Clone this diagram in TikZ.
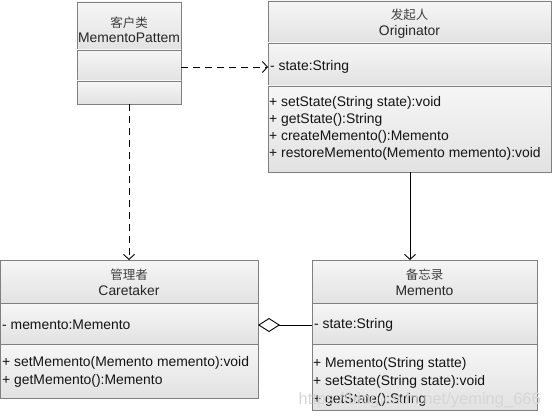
\documentclass[tikz,border=0pt]{standalone}
\usepackage{fontspec}
\setmainfont{Liberation Sans}
\newfontfamily\cjk{Noto Sans CJK SC}
\usetikzlibrary{arrows.meta}
\definecolor{boxline}{RGB}{128,128,128}
\definecolor{ctop}{RGB}{246,246,246}
\definecolor{cbot}{RGB}{226,226,226}
\definecolor{wmark}{RGB}{214,214,214}
\begin{document}
\begin{tikzpicture}[x=1pt,y=-1pt,
  comp/.style={draw=boxline, top color=ctop, bottom color=cbot, line width=0.8pt},
  boxnode/.style={inner sep=0pt, outer sep=0pt, anchor=north west},
  txt/.style={font=\fontsize{13.9}{16}\selectfont, inner sep=0pt, anchor=west, text=black!92},
  ttl/.style={font=\fontsize{13.9}{16}\selectfont, inner sep=0pt, text=black!85},
  cn/.style={font=\cjk\fontsize{12.5}{15}\selectfont, inner sep=0pt, text=black!75},
  conn/.style={line width=0.9pt, black},
  dep/.style={conn, dash pattern=on 7pt off 5pt, -{Straight Barb[length=5pt,width=11pt]}},
  assoc/.style={conn, -{Straight Barb[length=5pt,width=11pt]}},
  aggr/.style={conn, {Diamond[open,length=22pt,width=14pt,line width=0.9pt]}-}
]
\useasboundingbox (0,0) rectangle (552,420);
\fill[white] (0,0) rectangle (552,420);

% ---- Client box
\path[comp] (77,2) rectangle (181,50);
\path[comp] (77,50) rectangle (181,81);
\path[comp] (77,81) rectangle (181,104);
\node[boxnode, minimum width=104pt, minimum height=102pt] (client) at (77,2) {};
\node[cn] (clientcn) at (129,23) {客户类};
\node[ttl] (clientname) at (129,38) {MementoPattem};

% ---- Originator box
\path[comp] (268,1) rectangle (551,43);
\path[comp] (268,43) rectangle (551,86);
\path[comp] (268,86) rectangle (551,172);
\node[boxnode, minimum width=283pt, minimum height=171pt] (orig) at (268,1) {};
\node[cn] (origcn) at (409.5,15) {发起人};
\node[ttl] (origname) at (409.5,32) {Originator};
\node[txt] (origattr) at (270,67) {- state:String};
\node[txt] (origm1) at (269,103) {+ setState(String state):void};
\node[txt] (origm2) at (269,120) {+ getState():String};
\node[txt] (origm3) at (269,137) {+ createMemento():Memento};
\node[txt] (origm4) at (269,153.5) {+ restoreMemento(Memento memento):void};

% ---- Caretaker box
\path[comp] (0.4,260) rectangle (258,303);
\path[comp] (0.4,303) rectangle (258,344);
\path[comp] (0.4,344) rectangle (258,398);
\node[boxnode, minimum width=258pt, minimum height=138pt] (care) at (0,260) {};
\node[cn] (carecn) at (129,275) {管理者};
\node[ttl] (carename) at (129,291) {Caretaker};
\node[txt] (careattr) at (2,325) {- memento:Memento};
\node[txt] (carem1) at (2,363) {+ setMemento(Memento memento):void};
\node[txt] (carem2) at (2,381) {+ getMemento():Memento};

% ---- Memento box
\path[comp] (312,260) rectangle (537,303);
\path[comp] (312,303) rectangle (537,344);
\path[comp] (312,344) rectangle (537,410);
\node[boxnode, minimum width=225pt, minimum height=150pt] (mem) at (312,260) {};
\node[cn] (memcn) at (424.5,275) {备忘录};
\node[ttl] (memname) at (424.5,291) {Memento};
\node[txt] (memattr) at (314,325) {- state:String};
\node[txt] (memm1) at (313,364) {+ Memento(String statte)};
\node[txt] (memm2) at (313,382) {+ setState(String state):void};
\node[txt] (memm3) at (313,400) {+ getState():String};

% ---- watermark
\node[font=\fontsize{16.5}{18}\selectfont, text=wmark, inner sep=0pt, anchor=east] (wm) at (541,400) {https://blog.csdn.net/yeming\_666};

% ---- connectors
\coordinate (origdown) at (410,172);
\draw[dep] (client.south) -- (care.north);
\draw[dep] (client.east |- origattr.west) -- (orig.west |- origattr.west);
\draw[assoc] (origdown) -- (origdown |- mem.north);
\draw[aggr] (care.east |- careattr.west) -- (mem.west |- careattr.west);
\end{tikzpicture}
\end{document}
